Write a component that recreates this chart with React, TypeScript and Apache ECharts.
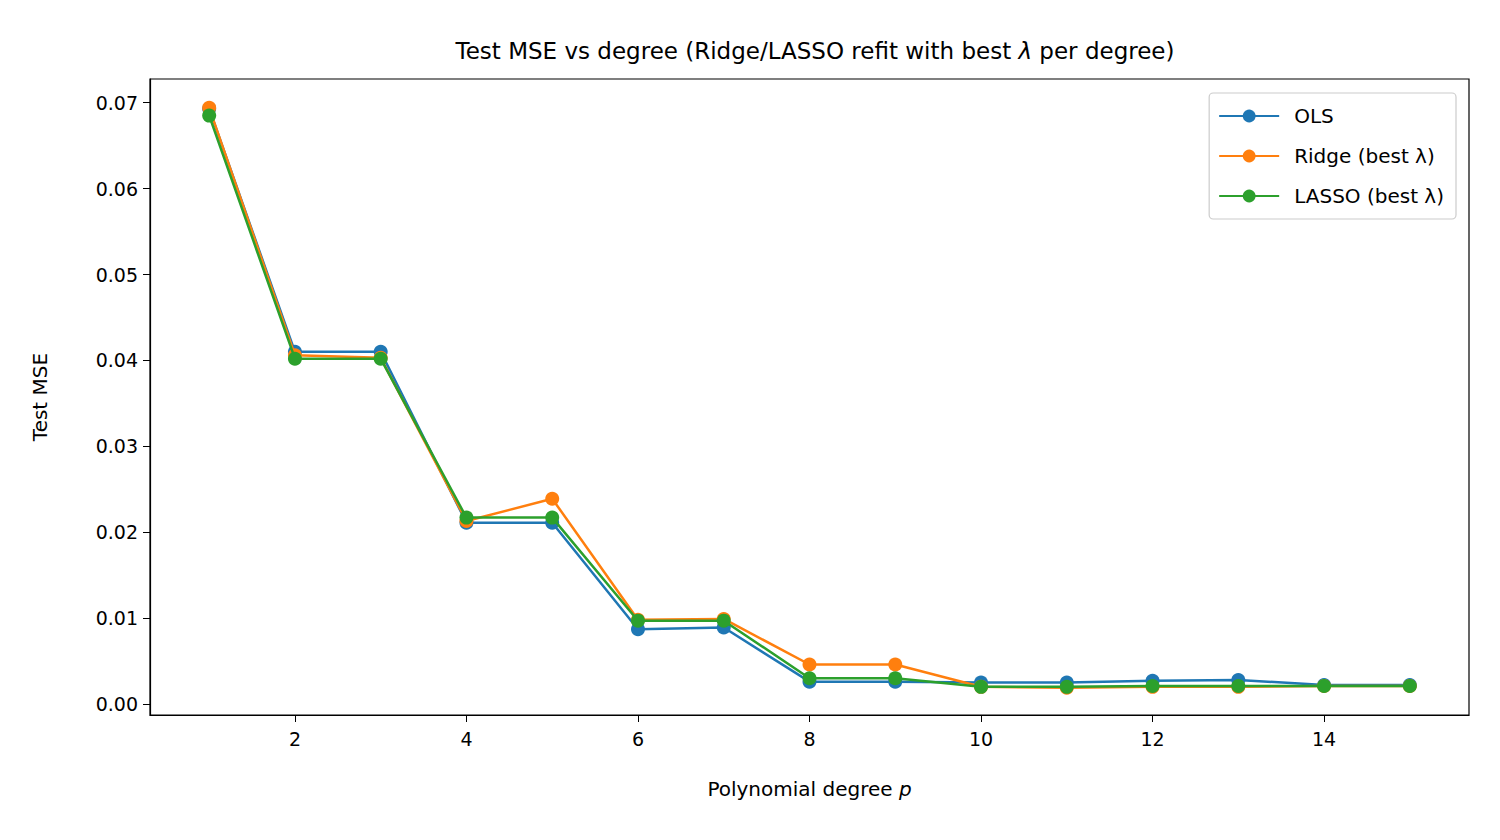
import * as echarts from 'echarts'
import { useEffect, useRef } from 'react'

const degrees = [1, 2, 3, 4, 5, 6, 7, 8, 9, 10, 11, 12, 13, 14, 15]
const olsMse = [0.0693, 0.041, 0.041, 0.0211, 0.0211, 0.0087, 0.0089, 0.0026, 0.0026, 0.0025, 0.0025, 0.0027, 0.0028, 0.0022, 0.0022]
const ridgeMse = [0.0694, 0.0406, 0.0403, 0.0213, 0.0239, 0.0098, 0.0099, 0.0046, 0.0046, 0.002, 0.0019, 0.002, 0.002, 0.0021, 0.0021]
const lassoMse = [0.0685, 0.0402, 0.0402, 0.0217, 0.0217, 0.0097, 0.0097, 0.003, 0.003, 0.002, 0.002, 0.0021, 0.0021, 0.0021, 0.0021]
const xTicks = [2, 4, 6, 8, 10, 12, 14]
const yTicks = [0, 0.01, 0.02, 0.03, 0.04, 0.05, 0.06, 0.07]

const font = 'DejaVu Sans'

const App = () => {
  const ref = useRef<HTMLDivElement>(null)

  useEffect(() => {
    if (!ref.current) return
    const chart = echarts.init(ref.current, undefined, { renderer: 'svg' })
    const mk = (name: string, color: string, data: number[], z: number) => ({
      name,
      type: 'line',
      z,
      data: degrees.map((d, i) => [d, data[i]]),
      symbol: 'circle',
      symbolSize: 14,
      lineStyle: { width: 2.5, color },
      itemStyle: { color },
    })
    chart.setOption({
      animation: false,
      textStyle: { fontFamily: font },
      title: {
        text: 'Test MSE vs degree (Ridge/LASSO refit with best {i|λ} per degree)',
        left: 810,
        textAlign: 'center',
        top: 34,
        textStyle: {
          fontFamily: font, fontSize: 23, fontWeight: 'normal', color: '#000',
          rich: { i: { fontFamily: font, fontSize: 23, fontStyle: 'italic' } },
        },
      },
      legend: {
        orient: 'vertical',
        right: 44,
        top: 93,
        padding: [13, 12, 13, 9],
        itemGap: 20,
        itemWidth: 60,
        itemHeight: 16,
        borderColor: '#ccc',
        borderWidth: 1.2,
        borderRadius: 4,
        textStyle: { fontFamily: font, fontSize: 20, color: '#000', padding: [0, 0, 0, 10] },
        data: ['OLS', 'Ridge (best λ)', 'LASSO (best λ)'],
      },
      grid: { left: 150, right: 31, top: 79, bottom: 125, show: true, borderColor: '#000', borderWidth: 1.2 },
      xAxis: {
        type: 'value',
        min: 0.31,
        max: 15.69,
        name: 'Polynomial degree {i|p}',
        nameLocation: 'middle',
        nameGap: 64,
        nameTextStyle: {
          fontFamily: font, fontSize: 20, color: '#000',
          rich: { i: { fontFamily: font, fontSize: 20, fontStyle: 'italic' } },
        },
        axisLine: { onZero: false, lineStyle: { color: '#000', width: 1.2 } },
        axisTick: { show: true, customValues: xTicks, length: 7, lineStyle: { color: '#000' } },
        axisLabel: { customValues: xTicks, fontSize: 19, color: '#000', margin: 14 },
        splitLine: { show: false },
      },
      yAxis: {
        type: 'value',
        min: -0.00128,
        max: 0.07276,
        name: 'Test MSE',
        nameLocation: 'middle',
        nameGap: 100,
        nameTextStyle: { fontFamily: font, fontSize: 20, color: '#000' },
        axisLine: { show: true, lineStyle: { color: '#000', width: 1.2 } },
        axisTick: { show: true, customValues: yTicks, length: 7, lineStyle: { color: '#000' } },
        axisLabel: {
          customValues: yTicks, fontSize: 19, color: '#000', margin: 12,
          formatter: (v: number) => v.toFixed(2),
        },
        splitLine: { show: false },
      },
      series: [
        mk('OLS', '#1f77b4', olsMse, 1),
        mk('Ridge (best λ)', '#ff7f0e', ridgeMse, 2),
        mk('LASSO (best λ)', '#2ca02c', lassoMse, 3),
      ],
    })
    return () => chart.dispose()
  }, [])

  return <div ref={ref} style={{ width: 1500, height: 840, margin: -8, background: '#fff' }} />
}

export default App
